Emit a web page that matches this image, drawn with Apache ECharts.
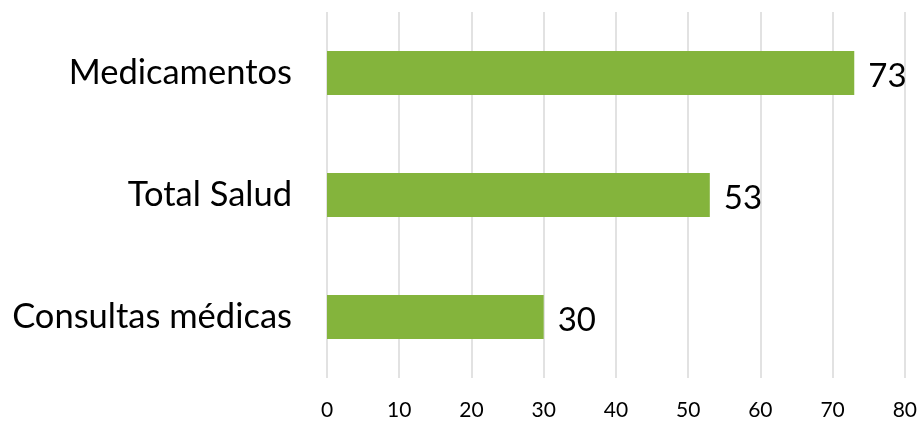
<!DOCTYPE html>
<html><head><meta charset="utf-8">
<script src="https://cdn.jsdelivr.net/npm/echarts@6/dist/echarts.min.js"></script>
<style>html,body{margin:0;padding:0;background:#fff}#c{width:920px;height:421px}</style>
</head><body><div id="c"></div>
<script>
const categories = ["Consultas médicas", "Total Salud", "Medicamentos"];
const values = [30, 53, 73];
const xTicks = [0, 10, 20, 30, 40, 50, 60, 70, 80];

const chart = echarts.init(document.getElementById('c'), null, {renderer: 'canvas'});
chart.setOption({
  animation: false,
  grid: {left: 327, right: 14.5, top: 12, bottom: 40, containLabel: false},
  xAxis: {
    type: 'value', min: xTicks[0], max: xTicks[xTicks.length - 1], interval: 10,
    axisLine: {show: false}, axisTick: {show: false},
    splitLine: {show: true, lineStyle: {color: '#d9d9d9', width: 1.5}},
    axisLabel: {fontFamily: 'Lato', fontSize: 21, color: '#000', margin: 22}
  },
  yAxis: {
    type: 'category', data: categories,
    axisLine: {show: false}, axisTick: {show: false},
    axisLabel: {fontFamily: 'Lato', fontSize: 34.5, color: '#000', margin: 35, padding: [4, 0, 0, 0]}
  },
  series: [{
    type: 'bar', data: values, barWidth: 44,
    itemStyle: {color: '#84B43C'},
    label: {show: true, position: 'right', distance: 14, offset: [0, 3], fontFamily: 'Lato', fontSize: 33, color: '#000'}
  }]
});
</script></body></html>
